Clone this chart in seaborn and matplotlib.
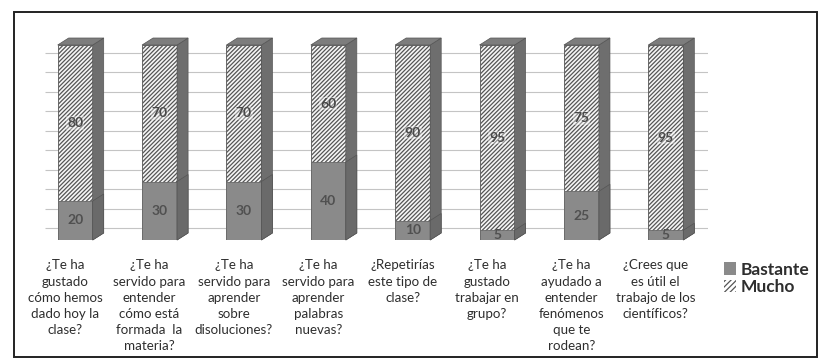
import matplotlib
matplotlib.use("Agg")
import matplotlib.pyplot as plt
import seaborn as sns
import pandas as pd
from matplotlib.patches import Polygon, Patch, Rectangle
from matplotlib.transforms import ScaledTranslation

categories = [
    "¿Te ha\ngustado\ncómo hemos\ndado hoy la\nclase?",
    "¿Te ha\nservido para\nentender\ncómo está\nformada  la\nmateria?",
    "¿Te ha\nservido para\naprender\nsobre\ndisoluciones?",
    "¿Te ha\nservido para\naprender\npalabras\nnuevas?",
    "¿Repetirías\neste tipo de\nclase?",
    "¿Te ha\ngustado\ntrabajar en\ngrupo?",
    "¿Te ha\nayudado a\nentender\nfenómenos\nque te\nrodean?",
    "¿Crees que\nes útil el\ntrabajo de los\ncientíficos?",
]
bastante = [20, 30, 30, 40, 10, 5, 25, 5]
mucho = [80, 70, 70, 60, 90, 95, 75, 95]
series_names = ["Bastante", "Mucho"]
grid_values = [0, 10, 20, 30, 40, 50, 60, 70, 80, 90, 100]

sns.set_theme(style="white")
plt.rcParams["font.family"] = ["Lato", "DejaVu Sans"]
plt.rcParams["hatch.linewidth"] = 0.9
plt.rcParams["hatch.color"] = "#3c3c3c"

df = pd.DataFrame({"cat": categories, "bastante": bastante, "mucho": mucho})
df["total"] = df["bastante"] + df["mucho"]

fig = plt.figure(figsize=(8.2, 3.62), dpi=100)
ax = fig.add_axes([33 / 820, (362 - 240) / 362, 675 / 820, 195 / 362])
ax.set_xlim(-0.5, 7.5)
ax.set_ylim(0, 100)

# back-wall gridlines (offset for 3D look)
grid_off = ScaledTranslation(12 / 100, 12 / 100, fig.dpi_scale_trans)
ax.hlines(grid_values, 0.0, 1.0, transform=ax.get_yaxis_transform() + grid_off,
          colors="#c4c4c4", linewidth=0.8, zorder=0)

BAST = "#8a8a8a"
sns.barplot(data=df, x="cat", y="total", color="#f6f6f6", width=0.415,
            saturation=1, ax=ax, zorder=2, linewidth=0.6, edgecolor="#555555")
n_mucho = len(ax.patches)
sns.barplot(data=df, x="cat", y="bastante", color=BAST, width=0.415,
            saturation=1, ax=ax, zorder=3, linewidth=0.6, edgecolor="#6a6a6a")
mucho_patches = ax.patches[:n_mucho]
bast_patches = ax.patches[n_mucho:]
for p in mucho_patches:
    p.set_hatch("////////")

ax.set_xlim(-0.5, 7.5)
ax.set_ylim(0, 100)

# 3D side and top faces, derived from the drawn bars
dx, dy = 11, 7
T = ax.transData
def add_faces(p, side_color, top_color=None, z=1.5):
    x0, y0 = p.get_x(), p.get_y()
    x1, y1 = x0 + p.get_width(), y0 + p.get_height()
    (ax0, ay0), (ax1, ay1) = T.transform([(x0, y0), (x1, y1)])
    side = Polygon([(ax1, ay0), (ax1 + dx, ay0 + dy), (ax1 + dx, ay1 + dy), (ax1, ay1)],
                   closed=True, transform=None, facecolor=side_color,
                   edgecolor="#555555", linewidth=0.5, zorder=z)
    fig.add_artist(side)
    if top_color is not None:
        top = Polygon([(ax0, ay1), (ax0 + dx, ay1 + dy), (ax1 + dx, ay1 + dy), (ax1, ay1)],
                      closed=True, transform=None, facecolor=top_color,
                      edgecolor="#555555", linewidth=0.5, zorder=z)
        fig.add_artist(top)

for p in mucho_patches:
    add_faces(p, "#6e6e6e", "#7d7d7d")
for p in bast_patches:
    add_faces(p, "#6a6a6a", None, z=1.6)

# value labels
for i, (b, m) in enumerate(zip(bastante, mucho)):
    ax.text(i, b / 2, str(b), ha="center", va="center", fontsize=10,
            fontweight="bold", color="#505050", zorder=5)
    ax.text(i, b + m / 2, str(m), ha="center", va="center", fontsize=10,
            fontweight="bold", color="#484848", zorder=5,
            bbox=dict(boxstyle="square,pad=0.05", facecolor="white", edgecolor="none", alpha=0.35))

ax.set_xlabel("")
ax.set_ylabel("")
ax.set_yticks([])
ax.tick_params(axis="x", length=0, pad=14, labelsize=9.6, labelcolor="#2e2e2e")
lbl_off = ScaledTranslation(-10 / 100, 0, fig.dpi_scale_trans)
for lbl in ax.get_xticklabels():
    lbl.set_linespacing(1.42)
    lbl.set_verticalalignment("top")
    lbl.set_transform(lbl.get_transform() + lbl_off)
for s in ax.spines.values():
    s.set_visible(False)

handles = [Patch(facecolor=BAST, edgecolor="none"),
           Patch(facecolor="white", edgecolor="#555555", hatch="//////", linewidth=0)]
leg = fig.legend(handles, series_names, loc="upper left",
                 bbox_to_anchor=(708 / 820, 1 - 246 / 362), frameon=False,
                 prop={"weight": "bold", "size": 12.5}, handlelength=0.7,
                 handleheight=0.7, handletextpad=0.3, labelspacing=0.1)
for t in leg.get_texts():
    t.set_color("#2e2e2e")

# outer frame
fig.patches.append(Rectangle((14 / 820, 1 - 357 / 362), 803 / 820, 345 / 362,
                             transform=fig.transFigure, fill=False,
                             edgecolor="#222222", linewidth=1.4))

fig.savefig("out.png", dpi=100)
